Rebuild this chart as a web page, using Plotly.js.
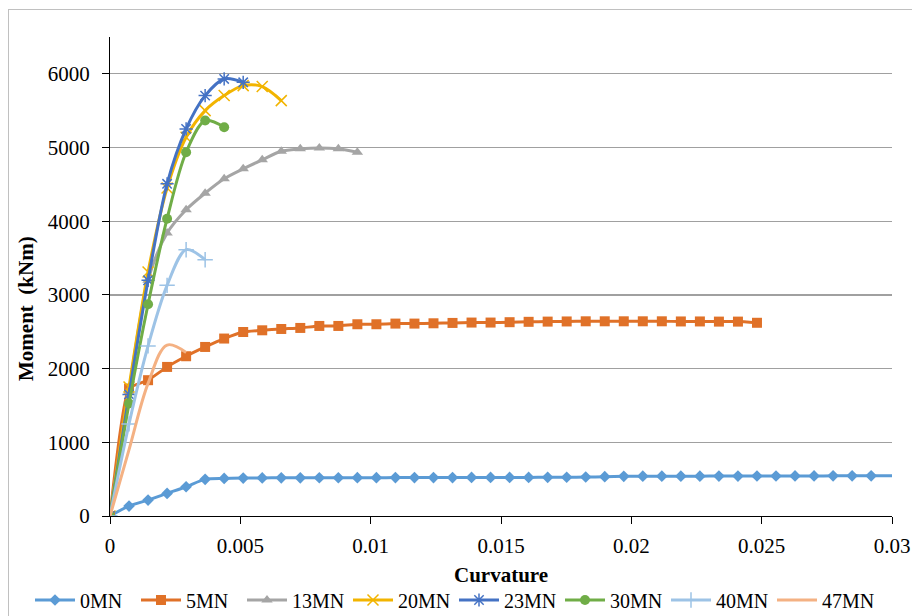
<!DOCTYPE html>
<html>
<head>
<meta charset="utf-8">
<script src="https://cdn.plot.ly/plotly-3.0.1.min.js"></script>
<style>
  html, body { margin: 0; padding: 0; background: #fff; }
  #wrap { position: relative; width: 912px; height: 616px; overflow: hidden; }
  #frame { position: absolute; left: 8px; top: 9px; width: 1000px; height: 1000px;
           border-left: 1px solid #c0c0c0; border-top: 1px solid #c0c0c0; pointer-events: none; }
  #chart { position: absolute; left: 0; top: 0; width: 912px; height: 616px; }
</style>
</head>
<body>
<div id="wrap">
  <div id="chart"></div>
  <div id="frame"></div>
</div>
<script>
// Curvature values (shared step of the load steps)
const curv = [0, 0.00073, 0.00146, 0.00219, 0.00292, 0.00365, 0.00438, 0.00511, 0.00584, 0.00657,
  0.0073, 0.00803, 0.00876, 0.00949, 0.01022, 0.01095, 0.01168, 0.01241, 0.01314, 0.01387,
  0.0146, 0.01533, 0.01606, 0.01679, 0.01752, 0.01825, 0.01898, 0.01971, 0.02044, 0.02117,
  0.0219, 0.02263, 0.02336, 0.02409, 0.02482, 0.02555, 0.02628, 0.02701, 0.02774, 0.02847,
  0.0292, 0.03066];

const seriesNames = ["0MN", "5MN", "13MN", "20MN", "23MN", "30MN", "40MN", "47MN"];

const m0MN = [0, 135, 216, 307, 397, 497, 510, 515, 517, 518,
  518, 519, 519, 520, 520, 521, 521, 522, 522, 523,
  523, 524, 524, 525, 526, 529, 533, 538, 540, 540,
  541, 541, 542, 542, 543, 543, 544, 544, 545, 545,
  545, 546];
const m5MN = [0, 1730, 1843, 2023, 2168, 2294, 2408, 2497, 2520, 2538,
  2552, 2579, 2579, 2602, 2602, 2611, 2611, 2615, 2620, 2625,
  2625, 2630, 2635, 2638, 2640, 2642, 2642, 2642, 2642, 2642,
  2640, 2640, 2638, 2638, 2622];
const m13MN = [0, 1700, 3200, 3839, 4156, 4381, 4576, 4711, 4833, 4950, 4982, 4995, 4982, 4936];
const m20MN = [0, 1750, 3310, 4450, 5140, 5501, 5705, 5840, 5827, 5637];
const m23MN = [0, 1650, 3198, 4508, 5253, 5705, 5931, 5885];
const m30MN = [0, 1527, 2873, 4034, 4936, 5366, 5276];
const m40MN = [0, 1250, 2308, 3130, 3614, 3478];
const m47MN = [0, 900, 1800, 2320, 2220];

const xTickVals = [0, 0.005, 0.01, 0.015, 0.02, 0.025, 0.03];
const xTickText = ["0", "0.005", "0.01", "0.015", "0.02", "0.025", "0.03"];
const yTickVals = [0, 1000, 2000, 3000, 4000, 5000, 6000];
const yTickText = ["0", "1000", "2000", "3000", "4000", "5000", "6000"];

const values = [m0MN, m5MN, m13MN, m20MN, m23MN, m30MN, m40MN, m47MN];
const colors = ["#5B9BD5", "#E07128", "#A5A5A5", "#F2B400", "#4472C4", "#70AD47", "#9DC3E6", "#F4B183"];
const symbols = ["diamond", "square", "triangle-up", "x-thin-open", "asterisk-open", "circle", "cross-thin-open", null];
const sizes = [9, 10, 10, 11, 11, 10, 11, 0];
const smooth = [0.8, 0.45, 0.9, 0.9, 0.9, 0.9, 0.9, 1.0];

const FONT = "Liberation Serif, Times New Roman, serif";

const traces = seriesNames.map((name, k) => {
  const ys = values[k];
  const t = {
    type: "scatter",
    name: name,
    x: curv.slice(0, ys.length),
    y: ys,
    mode: symbols[k] ? "lines+markers" : "lines",
    line: { color: colors[k], width: 3, shape: "spline", smoothing: smooth[k] },
    cliponaxis: true
  };
  if (symbols[k]) {
    t.marker = { symbol: symbols[k], size: sizes[k], color: colors[k],
                 line: { color: colors[k], width: symbols[k].indexOf("open") >= 0 ? 1.5 : 0 } };
  }
  return t;
});

const layout = {
  width: 912, height: 616,
  margin: { l: 110, r: 20, t: 37, b: 100, autoexpand: false },
  paper_bgcolor: "#ffffff", plot_bgcolor: "#ffffff",
  font: { family: FONT, size: 21, color: "#000" },
  showlegend: true,
  xaxis: {
    range: [0, 0.03], tickvals: xTickVals, ticktext: xTickText,
    showgrid: false, zeroline: false, showline: true, linecolor: "#000", linewidth: 1,
    ticks: "outside", ticklen: 7, tickcolor: "#000", tickwidth: 1,
    ticklabelstandoff: 4,
    tickfont: { family: FONT, size: 21, color: "#000" }
  },
  yaxis: {
    range: [0, 6500], tickvals: yTickVals, ticktext: yTickText,
    showgrid: true, gridcolor: "#a0a0a0", gridwidth: 1.2,
    zeroline: false, showline: true, linecolor: "#000", linewidth: 1,
    ticks: "outside", ticklen: 7, tickcolor: "#000", tickwidth: 1,
    ticklabelstandoff: 8,
    tickfont: { family: FONT, size: 21, color: "#000" }
  },
  legend: {
    orientation: "h", xref: "paper", yref: "paper",
    x: (30 - 110) / 782, xanchor: "left", y: (516 - 600) / 479, yanchor: "middle",
    font: { family: FONT, size: 20, color: "#000" },
    itemwidth: 40, entrywidth: 51, entrywidthmode: "pixels",
    tracegroupgap: 0, borderwidth: 0,
    bgcolor: "rgba(0,0,0,0)"
  },
  annotations: [
    { text: "<b>Curvature</b>", xref: "paper", yref: "paper",
      x: 0.5, y: (516 - 575) / 479, xanchor: "center", yanchor: "middle",
      showarrow: false, font: { family: FONT, size: 21, color: "#000" } },
    { text: "<b>Moment\u00a0 (kNm)</b>", xref: "paper", yref: "paper",
      x: (26 - 110) / 782, y: (516 - 309) / 479, xanchor: "center", yanchor: "middle",
      textangle: -90, showarrow: false, font: { family: FONT, size: 21, color: "#000" } }
  ]
};

Plotly.newPlot("chart", traces, layout, { displayModeBar: false, staticPlot: true });
</script>
</body>
</html>
